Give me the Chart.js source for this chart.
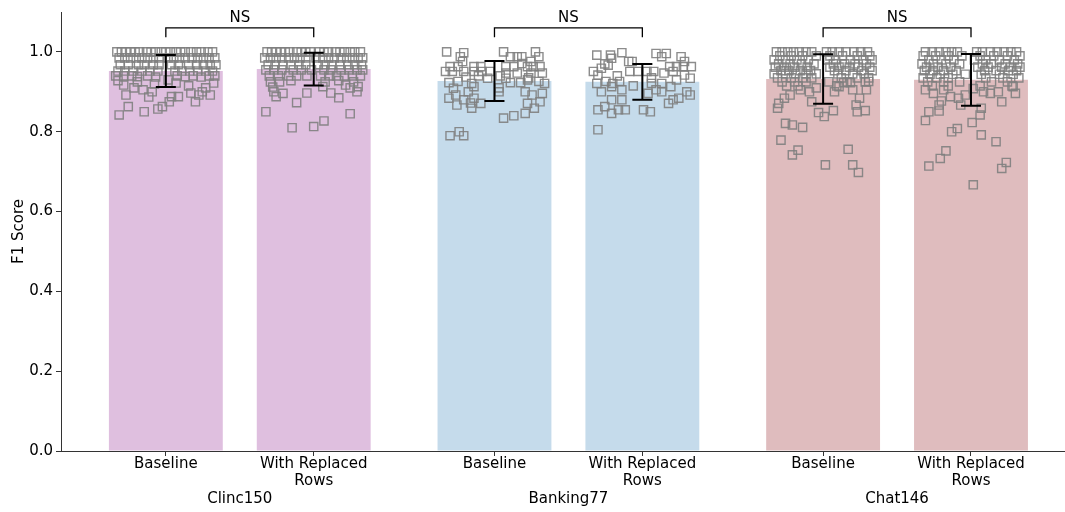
<!DOCTYPE html>
<html>
<head>
<meta charset="utf-8">
<script src="https://cdn.jsdelivr.net/npm/chart.js@4"></script>
<style>
  html, body { margin: 0; padding: 0; background: #fff; }
  #chart { display: block; }
</style>
</head>
<body>
<canvas id="chart" width="1065" height="512"></canvas>
<script>
// Data
const groups = ['Clinc150', 'Banking77', 'Chat146'];
const xTickLabels = ['Baseline', ['With Replaced', 'Rows'], 'Baseline', ['With Replaced', 'Rows'], 'Baseline', ['With Replaced', 'Rows']];
const barPositions = [0, 0.45, 1, 1.45, 2, 2.45];
const groupPositions = [0.225, 1.225, 2.225];
const meanF1 = [0.952, 0.957, 0.927, 0.925, 0.932, 0.930];
const sdF1 = [0.040, 0.041, 0.050, 0.045, 0.062, 0.065];
const barColors = ['#dfbfdf', '#dfbfdf', '#c5dbeb', '#c5dbeb', '#dfbcbe', '#dfbcbe'];
const yTicks = [0, 0.2, 0.4, 0.6, 0.8, 1.0];
const pairLabels = ['NS', 'NS', 'NS'];
const bracketLevel = 1.06;

// per-intent points: [jitter as fraction of bar width, F1]
const clincBase = [
  [-0.43,1],[-0.39,1],[-0.35,1],[-0.31,1],[-0.27,1],[-0.23,1],[-0.17,1],[-0.13,1],[-0.09,1],[-0.04,1],[0.0,1],[0.04,1],[0.09,1],[0.13,1],[0.17,1],[0.22,1],[0.27,1],[0.31,1],[0.37,1],[0.41,1],
  [-0.41,0.985],[-0.36,0.985],[-0.31,0.985],[-0.26,0.985],[-0.21,0.985],[-0.16,0.985],[-0.11,0.985],[-0.06,0.985],[0.02,0.985],[0.07,0.985],[0.12,0.985],[0.17,0.985],[0.23,0.985],[0.28,0.985],[0.33,0.985],[0.38,0.985],[0.43,0.985],
  [-0.40,0.968],[-0.33,0.968],[-0.24,0.968],[-0.19,0.968],[-0.11,0.968],[-0.06,0.968],[0.05,0.968],[0.11,0.968],[0.20,0.968],[0.27,0.968],[0.33,0.968],[0.39,0.968],[0.44,0.968],
  [-0.42,0.952],[-0.36,0.952],[-0.29,0.952],[-0.21,0.952],[-0.14,0.952],[-0.07,0.952],[0.08,0.952],[0.14,0.952],[0.21,0.952],[0.28,0.952],[0.35,0.952],[0.41,0.952],
  [-0.44,0.94],[-0.37,0.94],[-0.30,0.94],[-0.25,0.938],[-0.16,0.94],[-0.09,0.937],[0.10,0.94],[0.17,0.938],[0.24,0.94],[0.31,0.937],[0.38,0.94],[0.43,0.94],
  [-0.41,0.842],[-0.33,0.863],[-0.19,0.85],[-0.07,0.857],[-0.03,0.863],[0.03,0.875],[0.05,0.888],[0.11,0.888],[-0.15,0.887],[-0.35,0.892],
  [0.29,0.892],[0.26,0.875],[0.32,0.90],[0.39,0.892],[0.22,0.897],[-0.12,0.90],[-0.2,0.905],[-0.28,0.91],[-0.37,0.917],[0.09,0.922],
  [-0.25,0.925],[0.35,0.91],[0.42,0.922],[-0.42,0.928],[0.2,0.915],[-0.1,0.92],[0.02,0.93]
];
const clincRepl = [
  [-0.41,1],[-0.37,1],[-0.33,1],[-0.29,1],[-0.25,1],[-0.21,1],[-0.15,1],[-0.11,1],[-0.07,1],[-0.03,1],[0.05,1],[0.09,1],[0.13,1],[0.19,1],[0.23,1],[0.27,1],[0.32,1],[0.36,1],[0.41,1],
  [-0.43,0.985],[-0.38,0.985],[-0.33,0.985],[-0.28,0.985],[-0.22,0.985],[-0.17,0.985],[-0.12,0.985],[-0.07,0.985],[0.02,0.985],[0.08,0.985],[0.13,0.985],[0.18,0.985],[0.24,0.985],[0.29,0.985],[0.34,0.985],[0.39,0.985],[0.43,0.985],
  [-0.40,0.968],[-0.34,0.968],[-0.27,0.968],[-0.20,0.968],[-0.13,0.968],[-0.07,0.968],[0.04,0.968],[0.10,0.968],[0.16,0.968],[0.23,0.968],[0.30,0.968],[0.36,0.968],[0.42,0.968],
  [-0.42,0.955],[-0.35,0.955],[-0.28,0.955],[-0.18,0.955],[-0.11,0.955],[-0.02,0.955],[0.09,0.955],[0.15,0.955],[0.24,0.955],[0.31,0.955],[0.38,0.955],[0.43,0.955],
  [-0.39,0.94],[-0.31,0.94],[-0.22,0.94],[-0.15,0.94],[-0.06,0.94],[0.06,0.94],[0.14,0.94],[0.20,0.94],[0.27,0.94],[0.34,0.94],[0.41,0.94],
  [-0.38,0.925],[-0.30,0.925],[-0.20,0.928],[0.10,0.925],[0.22,0.928],[0.35,0.925],
  [-0.42,0.85],[-0.19,0.81],[0.0,0.813],[0.09,0.827],[0.32,0.845],[-0.15,0.873],[-0.06,0.897],[0.22,0.885],[0.15,0.897],[-0.33,0.888],
  [-0.27,0.896],[-0.35,0.90],[0.39,0.913],[0.32,0.91],[0.28,0.917],[0.08,0.913],[-0.36,0.912],[0.38,0.9]
];
const bankBase = [
  [-0.42,1.0],[-0.27,0.998],[-0.30,0.988],[-0.28,0.976],[0.08,1.0],[0.14,0.988],[0.2,0.988],[0.24,0.988],[0.36,1.0],[0.39,0.988],
  [0.32,0.976],[0.24,0.971],[0.40,0.963],[0.34,0.963],[0.29,0.963],[0.17,0.963],[0.10,0.963],[-0.39,0.963],[-0.32,0.963],[-0.18,0.963],
  [-0.12,0.963],[-0.43,0.951],[-0.37,0.951],[-0.27,0.951],[-0.18,0.951],[-0.11,0.951],[-0.04,0.951],[0.10,0.947],[0.2,0.947],[0.32,0.947],
  [0.42,0.947],[-0.06,0.934],[0.10,0.934],[0.14,0.923],[0.23,0.923],[0.29,0.93],[0.39,0.926],[0.44,0.921],[-0.40,0.923],[-0.32,0.926],
  [-0.2,0.921],[-0.36,0.909],[-0.18,0.913],[-0.23,0.90],[-0.40,0.884],[-0.34,0.892],[-0.27,0.88],[-0.21,0.872],[-0.18,0.884],[-0.12,0.871],
  [-0.2,0.859],[-0.33,0.867],[0.04,0.91],[0.04,0.90],[0.27,0.90],[0.33,0.892],[0.42,0.896],[0.40,0.875],[0.29,0.871],[0.35,0.859],
  [0.27,0.846],[0.17,0.84],[0.08,0.834],[-0.39,0.79],[-0.31,0.80],[-0.27,0.79],[-0.14,0.94],[0.05,0.94],[0.3,0.935],[-0.25,0.937]
];
const bankRepl = [
  [-0.40,0.992],[-0.28,0.992],[-0.27,0.984],[-0.18,0.998],[-0.30,0.967],[-0.36,0.959],[-0.43,0.951],[-0.39,0.942],[-0.12,0.976],[-0.09,0.976],
  [-0.11,0.951],[-0.04,0.951],[0.04,0.951],[0.10,0.951],[0.12,0.996],[0.17,0.988],[0.21,0.996],[0.34,0.988],[0.37,0.976],[0.24,0.963],
  [0.30,0.963],[0.36,0.963],[0.43,0.963],[0.19,0.947],[0.27,0.951],[0.37,0.942],[0.42,0.934],[-0.40,0.921],[-0.32,0.926],[-0.26,0.921],
  [-0.20,0.926],[-0.18,0.905],[-0.36,0.90],[-0.27,0.913],[0.05,0.896],[0.08,0.921],[0.17,0.921],[0.25,0.913],[0.17,0.90],[0.39,0.90],
  [0.42,0.892],[0.32,0.884],[0.27,0.88],[0.23,0.871],[-0.27,0.88],[-0.18,0.88],[-0.39,0.855],[-0.33,0.863],[-0.27,0.846],[-0.21,0.855],
  [-0.15,0.855],[0.01,0.855],[0.07,0.85],[-0.39,0.805],[-0.33,0.97],[-0.22,0.94],[0.08,0.935],[0.3,0.93],[-0.08,0.915],[0.12,0.905]
];
const chatBase = [
  [-0.41,1],[-0.36,1],[-0.31,1],[-0.26,1],[-0.21,1],[-0.15,1],[-0.1,1],[0.03,1],[0.08,1],[0.14,1],[0.2,1],[0.27,1],[0.33,1],[0.39,1],
  [-0.38,0.99],[-0.28,0.99],[-0.18,0.99],[-0.06,0.99],[0.06,0.99],[0.17,0.99],[0.3,0.99],[0.41,0.99],
  [-0.43,0.98],[-0.33,0.98],[-0.23,0.98],[-0.13,0.98],[0.04,0.98],[0.11,0.98],[0.24,0.98],[0.35,0.98],[0.43,0.98],
  [-0.39,0.97],[-0.29,0.97],[-0.19,0.97],[-0.08,0.97],[0.09,0.97],[0.19,0.97],[0.28,0.97],[0.38,0.97],
  [-0.42,0.962],[-0.34,0.962],[-0.25,0.962],[-0.14,0.962],[0.06,0.962],[0.14,0.962],[0.23,0.962],[0.31,0.962],[0.41,0.962],
  [-0.37,0.953],[-0.3,0.953],[-0.2,0.953],[-0.11,0.953],[0.1,0.953],[0.2,0.953],[0.34,0.953],[0.43,0.953],
  [-0.43,0.945],[-0.33,0.945],[-0.24,0.945],[-0.15,0.945],[-0.06,0.945],[0.13,0.945],[0.26,0.945],[0.36,0.945],
  [-0.4,0.935],[-0.28,0.935],[-0.18,0.935],[-0.1,0.935],[0.16,0.935],[0.3,0.935],[0.4,0.935],
  [-0.36,0.925],[-0.25,0.925],[-0.15,0.925],[0.05,0.925],[0.21,0.925],[0.37,0.925],
  [-0.32,0.915],[-0.22,0.915],[0.12,0.915],
  [-0.37,0.779],[-0.33,0.821],[-0.27,0.817],[-0.18,0.811],[-0.27,0.742],[-0.22,0.754],[0.02,0.717],[0.22,0.756],[0.26,0.717],[0.31,0.698],
  [-0.40,0.859],[-0.39,0.871],[-0.34,0.884],[-0.29,0.892],[-0.1,0.875],[-0.04,0.848],[0.01,0.838],[0.09,0.853],[0.10,0.90],[0.14,0.913],
  [0.29,0.867],[0.30,0.85],[0.37,0.853],[0.32,0.884],[0.26,0.905],[0.38,0.905],[0.18,0.923],[0.24,0.923],[0.40,0.926],[-0.12,0.9],
  [-0.06,0.91],[-0.2,0.905]
];
const chatRepl = [
  [-0.4,1],[-0.34,1],[-0.28,1],[-0.22,1],[-0.17,1],[-0.12,1],[0.05,1],[0.1,1],[0.17,1],[0.23,1],[0.29,1],[0.35,1],[0.4,1],
  [-0.42,0.99],[-0.31,0.99],[-0.2,0.99],[-0.08,0.99],[0.08,0.99],[0.2,0.99],[0.32,0.99],[0.43,0.99],
  [-0.37,0.98],[-0.26,0.98],[-0.15,0.98],[0.03,0.98],[0.13,0.98],[0.25,0.98],[0.38,0.98],
  [-0.43,0.97],[-0.33,0.97],[-0.22,0.97],[-0.1,0.97],[0.1,0.97],[0.18,0.97],[0.3,0.97],[0.41,0.97],
  [-0.39,0.962],[-0.29,0.962],[-0.18,0.962],[0.06,0.962],[0.15,0.962],[0.27,0.962],[0.35,0.962],[0.43,0.962],
  [-0.41,0.953],[-0.33,0.953],[-0.24,0.953],[-0.13,0.953],[0.12,0.953],[0.22,0.953],[0.33,0.953],[0.4,0.953],
  [-0.36,0.944],[-0.27,0.944],[-0.16,0.944],[-0.05,0.944],[0.09,0.944],[0.25,0.944],[0.37,0.944],
  [-0.42,0.935],[-0.3,0.935],[-0.2,0.935],[0.13,0.935],[0.28,0.935],[0.42,0.935],
  [-0.38,0.925],[-0.24,0.925],[-0.1,0.925],[0.18,0.925],[0.32,0.925],
  [-0.34,0.915],[-0.2,0.915],[0.08,0.915],[0.36,0.915],
  [0.02,0.667],[-0.37,0.714],[-0.27,0.733],[-0.22,0.752],[0.27,0.708],[0.31,0.723],[0.22,0.775],[0.09,0.792],[-0.17,0.80],[-0.12,0.808],
  [0.01,0.823],[-0.40,0.828],[-0.37,0.85],[-0.28,0.852],[-0.28,0.867],[-0.26,0.877],[-0.09,0.867],[0.08,0.842],[0.09,0.859],[0.27,0.875],
  [-0.18,0.888],[-0.11,0.884],[-0.05,0.892],[0.11,0.90],[0.17,0.896],[0.24,0.90],[0.39,0.896],[0.37,0.913],[-0.33,0.896],[-0.40,0.905],
  [-0.24,0.905],[0.02,0.908]
];
const pointSets = [clincBase, clincRepl, bankBase, bankRepl, chatBase, chatRepl];

// Lebar batang dalam satuan data (jarak terdekat antar batang * barPercentage)
const barPercentage = 0.77;
const barWidth = (barPositions[1] - barPositions[0]) * barPercentage;
const xMin = -0.319;
const xMax = 2.733;

Chart.defaults.font.family = "'DejaVu Sans', sans-serif";
Chart.defaults.font.size = 15;
Chart.defaults.color = '#000';

// Titik scatter jangan memakan ruang tepi (minPadding) di layout
Chart.registry.getController('scatter').prototype.getMaxOverflow = function () { return 0; };

// Titik-titik per intent, digeser sesuai jitter
const scatterPoints = pointSets.flatMap((set, i) =>
  set.map(([dx, f1]) => ({ x: barPositions[i] + dx * barWidth, y: f1 }))
);

// Sumbu x tidak boleh menambah padding kiri/kanan
function fixXAxis(height) {
  return (scale) => {
    scale.height = height;
    scale.paddingLeft = 0;
    scale.paddingRight = 0;
  };
}

// Error bar dan tanda NS digambar lewat plugin
const annotate = {
  id: 'annotate',
  afterDatasetsDraw(chart) {
    const { ctx, scales: { x, y } } = chart;
    ctx.save();
    ctx.strokeStyle = '#000';
    ctx.lineWidth = 2;
    meanF1.forEach((m, i) => {
      const px = x.getPixelForValue(barPositions[i]);
      const top = y.getPixelForValue(m + sdF1[i]);
      const bot = y.getPixelForValue(m - sdF1[i]);
      ctx.beginPath();
      ctx.moveTo(px, top); ctx.lineTo(px, bot);
      ctx.moveTo(px - 10, top); ctx.lineTo(px + 10, top);
      ctx.moveTo(px - 10, bot); ctx.lineTo(px + 10, bot);
      ctx.stroke();
    });

    ctx.lineWidth = 1.3;
    ctx.fillStyle = '#000';
    ctx.font = "15px 'DejaVu Sans'";
    ctx.textAlign = 'center';
    ctx.textBaseline = 'alphabetic';
    pairLabels.forEach((label, g) => {
      const x1 = x.getPixelForValue(barPositions[2 * g]);
      const x2 = x.getPixelForValue(barPositions[2 * g + 1]);
      const yTop = y.getPixelForValue(bracketLevel);
      const yEnd = y.getPixelForValue(bracketLevel - 0.023);
      ctx.beginPath();
      ctx.moveTo(x1, yEnd); ctx.lineTo(x1, yTop); ctx.lineTo(x2, yTop); ctx.lineTo(x2, yEnd);
      ctx.stroke();
      ctx.fillText(label, (x1 + x2) / 2, yTop - 6);
    });
    ctx.restore();
  }
};

new Chart(document.getElementById('chart'), {
  type: 'bar',
  data: {
    datasets: [
      {
        type: 'scatter',
        data: scatterPoints,
        pointStyle: 'rect',
        pointRadius: 5.8,
        backgroundColor: 'rgba(0,0,0,0)',
        borderColor: 'rgba(128,128,128,0.9)',
        borderWidth: 1.4,
        order: 0
      },
      {
        type: 'bar',
        data: barPositions.map((p, i) => ({ x: p, y: meanF1[i] })),
        backgroundColor: barColors,
        borderWidth: 0,
        categoryPercentage: 1,
        barPercentage: barPercentage,
        order: 1
      }
    ]
  },
  options: {
    responsive: false,
    devicePixelRatio: 1,
    animation: false,
    layout: { padding: { top: 12, right: 1, left: 0, bottom: 0 } },
    plugins: { legend: { display: false }, tooltip: { enabled: false } },
    scales: {
      x: {
        type: 'linear',
        position: 'bottom',
        min: xMin,
        max: xMax,
        offset: false,
        grid: { display: true, drawOnChartArea: false, drawTicks: true, tickLength: 5, color: '#333', offset: false },
        border: { display: true, color: '#333', width: 1 },
        afterBuildTicks: (scale) => { scale.ticks = barPositions.map(v => ({ value: v })); },
        ticks: {
          autoSkip: false,
          maxRotation: 0,
          padding: 0,
          font: { lineHeight: 1.1 },
          callback: (value, index) => xTickLabels[index]
        },
        afterFit: fixXAxis(34)
      },
      x2: {
        type: 'linear',
        position: 'bottom',
        min: xMin,
        max: xMax,
        offset: false,
        grid: { display: false, drawTicks: false },
        border: { display: false },
        afterBuildTicks: (scale) => { scale.ticks = groupPositions.map(v => ({ value: v })); },
        ticks: {
          autoSkip: false,
          maxRotation: 0,
          padding: 6,
          font: { lineHeight: 1.1 },
          callback: (value, index) => groups[index]
        },
        afterFit: fixXAxis(27)
      },
      y: {
        min: 0,
        max: 1.1,
        grid: { display: true, drawOnChartArea: false, drawTicks: true, tickLength: 5, color: '#333' },
        border: { display: true, color: '#333', width: 1 },
        afterBuildTicks: (scale) => { scale.ticks = yTicks.map(v => ({ value: v })); },
        ticks: { padding: 3, callback: (v) => v.toFixed(1) },
        title: { display: true, text: 'F1 Score', padding: { top: 10, bottom: 0 } },
        afterFit: (scale) => { scale.width = 61; }
      }
    }
  },
  plugins: [annotate]
});
</script>
</body>
</html>
